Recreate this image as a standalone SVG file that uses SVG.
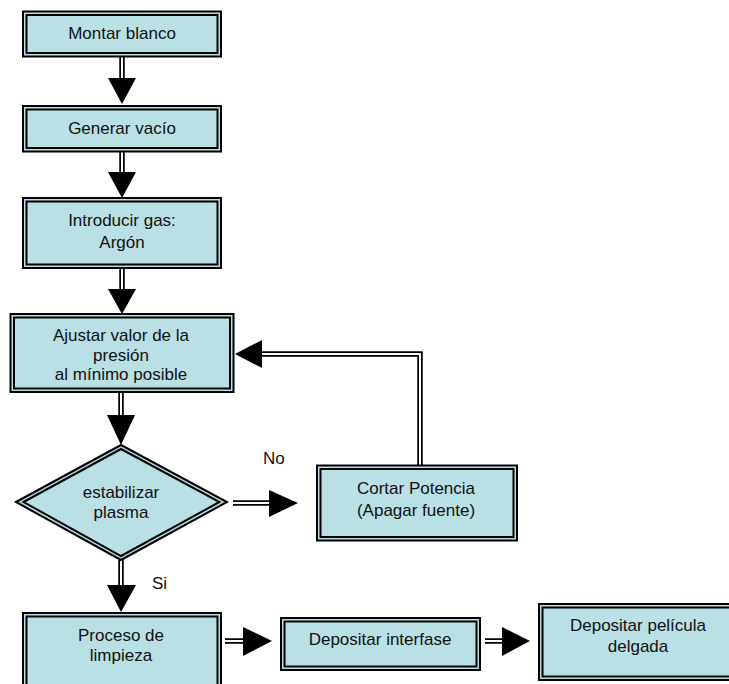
<svg xmlns="http://www.w3.org/2000/svg" width="729" height="684" viewBox="0 0 729 684">
<style>
.o{fill:#b9e0e4;stroke:#000;stroke-width:2}
.i{fill:#b9e0e4;stroke:#000;stroke-width:2}
.t{font-family:"Liberation Sans",Arial,sans-serif;font-size:17px;fill:#111;text-anchor:middle}
.l{font-family:"Liberation Sans",Arial,sans-serif;font-size:17px;fill:#111}
.so{fill:none;stroke:#000;stroke-width:5.5;stroke-linejoin:miter}
.si{fill:none;stroke:#fff;stroke-width:2;stroke-linejoin:miter}
.h{fill:#000}
</style>
<rect width="729" height="684" fill="#fff"/>
<g id="connectors">
  <path class="so" d="M122,57V80"/><path class="si" d="M122,57V80"/>
  <polygon class="h" points="108,78 136,78 122,104"/>
  <path class="so" d="M122,152V174"/><path class="si" d="M122,152V174"/>
  <polygon class="h" points="108,172 136,172 122,198"/>
  <path class="so" d="M122,269V291"/><path class="si" d="M122,269V291"/>
  <polygon class="h" points="108,289 136,289 122,314"/>
  <path class="so" d="M121,393V417"/><path class="si" d="M121,393V417"/>
  <polygon class="h" points="107,415 135,415 121,445"/>
  <path class="so" d="M121,560V587"/><path class="si" d="M121,560V587"/>
  <polygon class="h" points="107,585 136,585 121,612"/>
  <path class="so" d="M233,503H271"/><path class="si" d="M233,503H271"/>
  <polygon class="h" points="269,490 269,517 298,503"/>
  <path class="so" d="M420,465V354H261"/><path class="si" d="M420,465V354H261"/>
  <polygon class="h" points="262,340 262,368 235,354"/>
  <path class="so" d="M225,641H245"/><path class="si" d="M225,641H245"/>
  <polygon class="h" points="243,627 243,656 272,641"/>
  <path class="so" d="M485,641H504"/><path class="si" d="M485,641H504"/>
  <polygon class="h" points="502,627 502,656 530,641"/>
  <text class="l" x="263" y="464">No</text>
  <text class="l" x="152" y="589">Si</text>
</g>
<g id="n1">
  <rect class="o" x="23" y="11.5" width="198" height="45"/>
  <rect class="i" x="26.5" y="15" width="191" height="38"/>
  <text class="t" x="122" y="39">Montar blanco</text>
</g>
<g id="n2">
  <rect class="o" x="23" y="106" width="198" height="45.5"/>
  <rect class="i" x="26.5" y="109.5" width="191" height="38.5"/>
  <text class="t" x="122" y="134">Generar vacío</text>
</g>
<g id="n3">
  <rect class="o" x="23" y="198" width="198" height="70"/>
  <rect class="i" x="26.5" y="201.5" width="191" height="63"/>
  <text class="t" x="122" y="226">Introducir gas:</text>
  <text class="t" x="122" y="248">Argón</text>
</g>
<g id="n4">
  <rect class="o" x="10.5" y="314" width="223" height="78"/>
  <rect class="i" x="14" y="317.5" width="216" height="71"/>
  <text class="t" x="121" y="341">Ajustar valor de la</text>
  <text class="t" x="121" y="361">presión</text>
  <text class="t" x="121" y="380">al mínimo posible</text>
</g>
<g id="n5">
  <polygon class="o" points="16,502 121,445 227,502 121,560"/>
  <polygon class="i" points="23.5,502 121,449 219.5,502 121,556"/>
  <text class="t" x="121" y="498">estabilizar</text>
  <text class="t" x="121" y="518">plasma</text>
</g>
<g id="n6">
  <rect class="o" x="317" y="465.5" width="200" height="75"/>
  <rect class="i" x="320.5" y="469" width="193" height="68"/>
  <text class="t" x="416" y="494">Cortar Potencia</text>
  <text class="t" x="416" y="516">(Apagar fuente)</text>
</g>
<g id="n7">
  <rect class="o" x="23" y="613" width="198" height="90"/>
  <rect class="i" x="26.5" y="616.5" width="191" height="83"/>
  <text class="t" x="121" y="641">Proceso de</text>
  <text class="t" x="121" y="661">limpieza</text>
</g>
<g id="n8">
  <rect class="o" x="281" y="618" width="199" height="52"/>
  <rect class="i" x="284.5" y="621.5" width="192" height="45"/>
  <text class="t" x="380" y="645">Depositar interfase</text>
</g>
<g id="n9">
  <rect class="o" x="539" y="604" width="200" height="76"/>
  <rect class="i" x="542.5" y="607.5" width="193" height="69"/>
  <text class="t" x="638" y="631">Depositar película</text>
  <text class="t" x="638" y="652">delgada</text>
</g>
</svg>
